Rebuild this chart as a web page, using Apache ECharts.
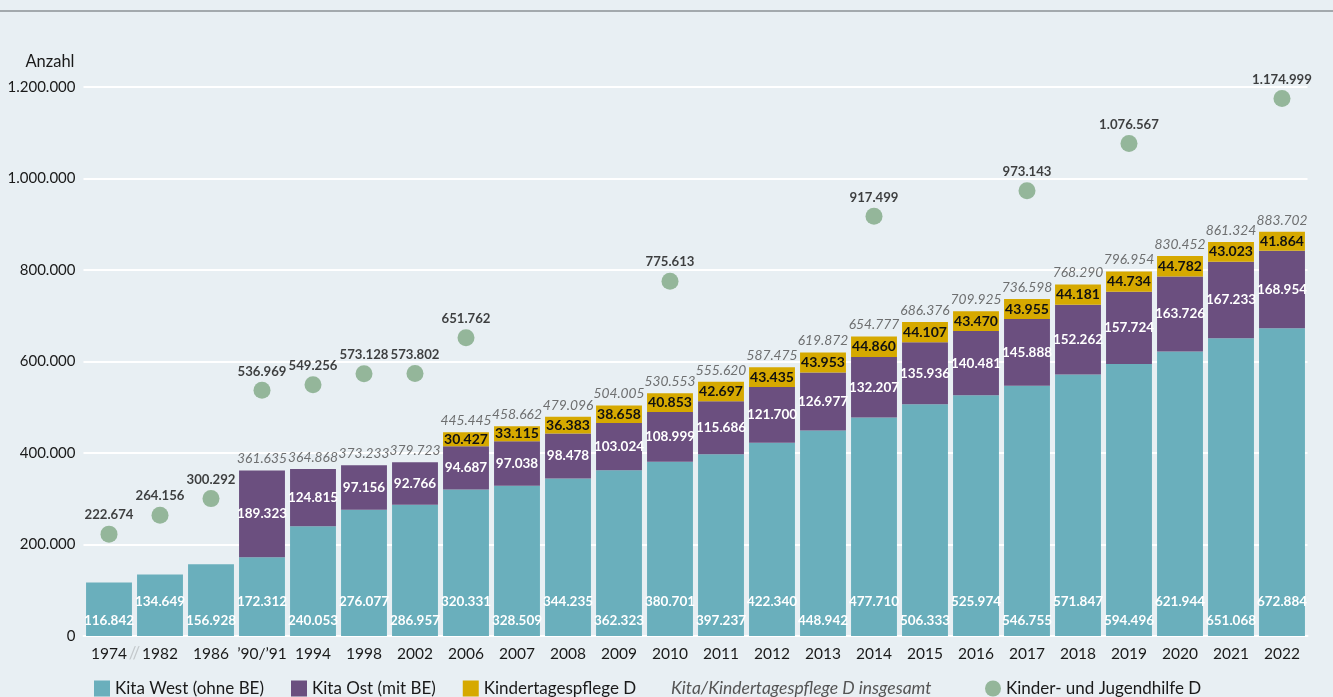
<!DOCTYPE html>
<html>
<head>
<meta charset="utf-8">
<script src="https://cdn.jsdelivr.net/npm/echarts@6/dist/echarts.min.js"></script>
<style>
html,body{margin:0;padding:0;background:#e8eff3;}
#chart{width:1333px;height:697px;}
</style>
</head>
<body>
<div id="chart"></div>
<script>
const categories = ['1974','1982','1986','\u201990/\u201991','1994','1998','2002','2006','2007','2008','2009','2010','2011','2012','2013','2014','2015','2016','2017','2018','2019','2020','2021','2022'];
const kitaWest = [116842,134649,156928,172312,240053,276077,286957,320331,328509,344235,362323,380701,397237,422340,448942,477710,506333,525974,546755,571847,594496,621944,651068,672884];
const kitaOst = [null,null,null,189323,124815,97156,92766,94687,97038,98478,103024,108999,115686,121700,126977,132207,135936,140481,145888,152262,157724,163726,167233,168954];
const tagespflege = [null,null,null,null,null,null,null,30427,33115,36383,38658,40853,42697,43435,43953,44860,44107,43470,43955,44181,44734,44782,43023,41864];
const insgesamt = [null,null,null,361635,364868,373233,379723,445445,458662,479096,504005,530553,555620,587475,619872,654777,686376,709925,736598,768290,796954,830452,861324,883702];
const jugendhilfe = [222674,264156,300292,536969,549256,573128,573802,651762,null,null,null,775613,null,null,null,917499,null,null,973143,null,1076567,null,null,1174999];
const yTicks = [0,200000,400000,600000,800000,1000000,1200000];

const FONT = 'Lato';
function fmt(v){ return String(Math.round(v)).replace(/\B(?=(\d{3})+(?!\d))/g,'.'); }
function lab(p){ return p.value==null ? '' : fmt(p.value); }

const legendText = {fontFamily:FONT,fontSize:17,color:'#1a1a1a'};
const chart = echarts.init(document.getElementById('chart'), null, {renderer:'canvas'});
const option = {
  backgroundColor:'#e8eff3',
  animation:false,
  textStyle:{fontFamily:FONT},
  grid:{left:83.5,right:25.5,top:87,bottom:61,containLabel:false},
  legend:[
    {
      left:89, top:675, itemWidth:16, itemHeight:16, itemGap:27, textStyle:legendText,
      data:[
        {name:'Kita West (ohne BE)',icon:'rect'},
        {name:'Kita Ost (mit BE)',icon:'rect'},
        {name:'Kindertagespflege D',icon:'rect'}
      ]
    },
    {
      left:645, top:674, itemWidth:16, itemHeight:16, textStyle:legendText,
      data:[{name:'Kita/Kindertagespflege D insgesamt',icon:'none',textStyle:{fontStyle:'italic',color:'#555555',fontSize:17.5}}]
    },
    {
      left:980, top:675, itemWidth:16, itemHeight:16, textStyle:legendText,
      data:[{name:'Kinder- und Jugendhilfe D',icon:'circle'}]
    }
  ],
  xAxis:{
    type:'category', data:categories,
    axisLine:{show:true,lineStyle:{color:'#ffffff',width:2}},
    axisTick:{show:false},
    axisLabel:{fontFamily:FONT,fontSize:15.5,color:'#1a1a1a',margin:10,interval:0}
  },
  yAxis:{
    type:'value', min:0, max:1200000, interval:200000,
    name:'Anzahl', nameLocation:'end', nameGap:17,
    nameTextStyle:{fontFamily:FONT,fontSize:16.5,color:'#1a1a1a',align:'right',padding:[0,9,0,0]},
    axisLine:{show:false}, axisTick:{show:false},
    splitLine:{lineStyle:{color:'#ffffff',width:2}},
    axisLabel:{fontFamily:FONT,fontSize:15,color:'#1a1a1a',margin:8,
      formatter:function(v){ return yTicks.indexOf(v)>=0 ? fmt(v) : ''; }}
  },
  series:[
    {
      name:'Kita West (ohne BE)', type:'bar', stack:'kita', barCategoryGap:'10%',
      itemStyle:{color:'#6aafbc'},
      data:kitaWest.map(function(v,i){return {value:v,label:{distance:(i%2===1)?27:8}};}),
      label:{show:true,position:'insideBottom',color:'#ffffff',fontFamily:FONT,fontSize:13.5,fontWeight:'bold',formatter:lab}
    },
    {
      name:'Kita Ost (mit BE)', type:'bar', stack:'kita',
      itemStyle:{color:'#6b4f7f'},
      data:kitaOst,
      label:{show:true,position:'inside',color:'#ffffff',fontFamily:FONT,fontSize:13.5,fontWeight:'bold',formatter:lab}
    },
    {
      name:'Kindertagespflege D', type:'bar', stack:'kita',
      itemStyle:{color:'#d6a900'},
      data:tagespflege,
      label:{show:true,position:'inside',color:'#111111',fontFamily:FONT,fontSize:14,fontWeight:'bold',formatter:lab}
    },
    {
      name:'Kita/Kindertagespflege D insgesamt', type:'scatter',
      symbolSize:1, itemStyle:{color:'rgba(0,0,0,0)'}, data:insgesamt,
      labelLayout:{hideOverlap:false},
      label:{show:true,position:'top',distance:4,color:'#4f4f4f',fontStyle:'italic',fontFamily:FONT,fontSize:13.8,formatter:lab}
    },
    {
      name:'Kinder- und Jugendhilfe D', type:'scatter',
      symbolSize:17, itemStyle:{color:'#7ea883'}, data:jugendhilfe,
      label:{show:true,position:'top',distance:4,color:'#111111',fontWeight:'bold',fontFamily:FONT,fontSize:13.2,formatter:lab}
    }
  ]
};
chart.setOption(option);
// break marker between the first two categories
const p0 = chart.convertToPixel({xAxisIndex:0},0);
const p1 = chart.convertToPixel({xAxisIndex:0},1);
const yb = chart.convertToPixel({yAxisIndex:0},0);
chart.setOption({graphic:[
  {type:'line',shape:{x1:0,y1:11,x2:1333,y2:11},style:{stroke:'#8c9296',lineWidth:1.5},silent:true},
  {type:'text',x:(p0+p1)/2,y:yb+18,style:{text:'//',fontFamily:FONT,fontSize:17,fill:'#c4c9cc',textAlign:'center',textVerticalAlign:'middle'},silent:true}
]});
</script>
</body>
</html>
